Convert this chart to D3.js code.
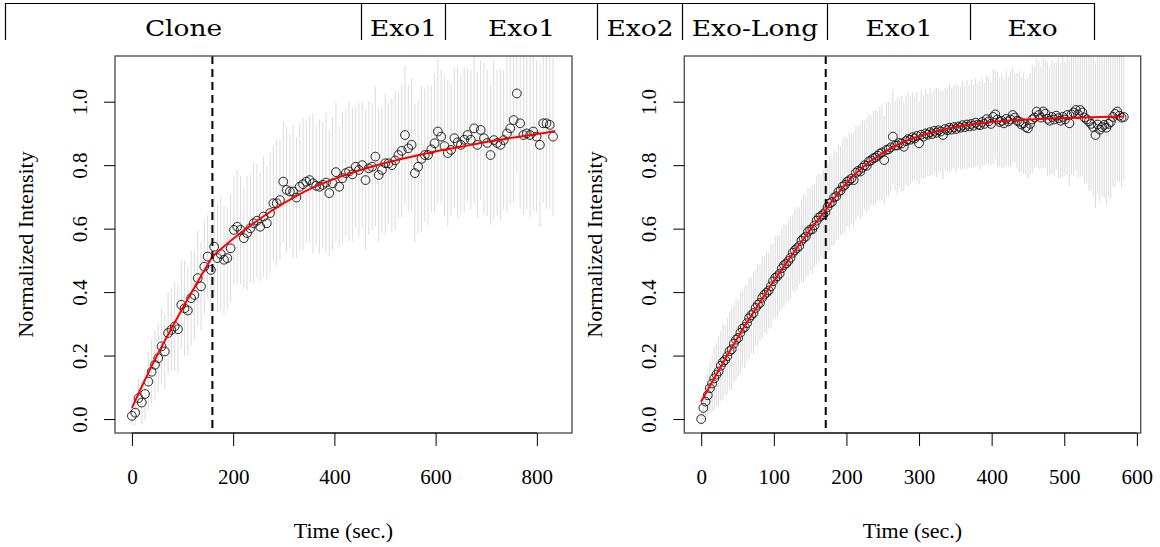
<!DOCTYPE html>
<html>
<head>
<meta charset="utf-8">
<script src="https://cdn.jsdelivr.net/npm/d3@7"></script>
<style>
body { margin: 0; background: #fff; }
svg { display: block; }
</style>
</head>
<body>
<div id="chart"></div>
<script>
// ********** DATA **********

const headerLabels = ["Clone", "Exo1", "Exo1", "Exo2", "Exo-Long", "Exo1", "Exo"];

const yTicks = [0, 0.2, 0.4, 0.6, 0.8, 1.0];
const leftXTicks = [0, 200, 400, 600, 800];
const rightXTicks = [0, 100, 200, 300, 400, 500, 600];

// left panel (Clone)
const leftTime = [0,6.5,13,19.5,26,32.5,39,45.5,52,58.5,65,71.5,78,84.5,91,97.5,104,110.5,117,123.5,
	130,136.5,143,149.5,156,162.5,169,175.5,182,188.5,195,201.5,208,214.5,221,227.5,234,240.5,247,253.5,
	260,266.5,273,279.5,286,292.5,299,305.5,312,318.5,325,331.5,338,344.5,351,357.5,364,370.5,377,383.5,
	390,396.5,403,409.5,416,422.5,429,435.5,442,448.5,455,461.5,468,474.5,481,487.5,494,500.5,507,513.5,
	520,526.5,533,539.5,546,552.5,559,565.5,572,578.5,585,591.5,598,604.5,611,617.5,624,630.5,637,643.5,
	650,656.5,663,669.5,676,682.5,689,695.5,702,708.5,715,721.5,728,734.5,741,747.5,754,760.5,767,773.5,
	780,786.5,793,799.5,806,812.5,819,825.5,832];
const leftMean = [0.010,0.020,0.066,0.052,0.079,0.118,0.149,0.171,0.192,0.229,
	0.213,0.271,0.281,0.292,0.283,0.360,0.349,0.342,0.381,0.391,
	0.444,0.418,0.480,0.512,0.470,0.543,0.507,0.520,0.502,0.507,
	0.538,0.596,0.606,0.596,0.570,0.586,0.601,0.617,0.625,0.606,
	0.638,0.617,0.649,0.680,0.680,0.690,0.748,0.722,0.717,0.717,
	0.698,0.732,0.740,0.748,0.753,0.743,0.735,0.732,0.738,0.745,
	0.712,0.743,0.778,0.732,0.759,0.775,0.780,0.771,0.795,0.785,
	0.800,0.753,0.790,0.795,0.827,0.769,0.785,0.806,0.806,0.800,
	0.815,0.832,0.845,0.895,0.853,0.864,0.775,0.795,0.820,0.832,
	0.832,0.850,0.869,0.906,0.890,0.860,0.838,0.848,0.885,0.872,
	0.864,0.880,0.895,0.880,0.916,0.864,0.911,0.885,0.870,0.832,
	0.879,0.870,0.864,0.879,0.900,0.916,0.942,1.026,0.932,0.895,
	0.900,0.895,0.906,0.890,0.864,0.932,0.932,0.927,0.890];
const leftSd = [0.03,0.04,0.06,0.07,0.08,0.09,0.10,0.11,0.11,0.12,
	0.12,0.13,0.13,0.14,0.14,0.14,0.15,0.14,0.15,0.14,
	0.15,0.14,0.15,0.13,0.14,0.16,0.17,0.18,0.17,0.16,
	0.17,0.17,0.18,0.17,0.16,0.18,0.17,0.19,0.18,0.17,
	0.19,0.18,0.19,0.18,0.20,0.19,0.19,0.20,0.18,0.21,
	0.19,0.20,0.21,0.19,0.20,0.22,0.19,0.21,0.20,0.22,
	0.20,0.21,0.22,0.19,0.21,0.20,0.22,0.21,0.19,0.21,
	0.20,0.22,0.21,0.20,0.22,0.21,0.20,0.22,0.19,0.21,
	0.22,0.20,0.21,0.22,0.20,0.21,0.22,0.21,0.23,0.21,
	0.22,0.20,0.22,0.23,0.21,0.22,0.23,0.21,0.22,0.24,
	0.22,0.23,0.21,0.22,0.24,0.23,0.22,0.24,0.23,0.22,
	0.25,0.23,0.24,0.22,0.25,0.24,0.26,0.25,0.27,0.25,
	0.24,0.26,0.25,0.24,0.26,0.25,0.27,0.26,0.25];
const leftFitTime = [0,20,40,60,80,100,120,140,159,200,250,300,350,400,450,500,550,600,650,700,750,800,836];
const leftFitValue = [0.035,0.104,0.170,0.232,0.291,0.349,0.405,0.460,0.512,0.568,0.628,0.680,0.724,0.757,0.784,0.807,0.826,0.843,0.858,0.873,0.886,0.898,0.908];
const leftKink = 159;

// right panel (Exo-Long)
const rightTime = [0,3,6,9,12,15,18,21,24,27,30,33,36,39,42,45,48,51,54,57,
	60,63,66,69,72,75,78,81,84,87,90,93,96,99,102,105,108,111,114,117,
	120,123,126,129,132,135,138,141,144,147,150,153,156,159,162,165,168,171,174,177,
	180,183,186,189,192,195,198,201,204,207,210,213,216,219,222,225,228,231,234,237,
	240,243,246,249,252,255,258,261,264,267,270,273,276,279,282,285,288,291,294,297,
	300,303,306,309,312,315,318,321,324,327,330,333,336,339,342,345,348,351,354,357,
	360,363,366,369,372,375,378,381,384,387,390,393,396,399,402,405,408,411,414,417,
	420,423,426,429,432,435,438,441,444,447,450,453,456,459,462,465,468,471,474,477,
	480,483,486,489,492,495,498,501,504,507,510,513,516,519,522,525,528,531,534,537,
	540,543,546,549,552,555,558,561,564,567,570,573,576,579,582];
const rightMean = [0.000,0.035,0.055,0.075,0.097,0.112,0.128,0.140,0.150,0.168,
	0.180,0.186,0.198,0.214,0.220,0.238,0.250,0.256,0.272,0.285,
	0.290,0.302,0.318,0.327,0.334,0.350,0.360,0.366,0.382,0.392,
	0.398,0.405,0.418,0.434,0.445,0.450,0.458,0.475,0.485,0.490,
	0.498,0.508,0.524,0.532,0.538,0.545,0.562,0.570,0.575,0.590,
	0.597,0.598,0.610,0.625,0.635,0.640,0.645,0.652,
	0.668,0.680,0.684,0.698,0.702,0.716,0.720,0.733,0.738,0.748,
	0.752,0.758,0.753,0.776,0.782,0.780,0.792,0.800,0.798,0.812,
	0.815,0.822,0.824,0.830,0.836,0.840,0.816,0.848,0.850,0.856,
	0.890,0.862,0.862,0.870,0.868,0.858,0.876,0.882,0.880,0.888,
	0.884,0.892,0.869,0.896,0.890,0.900,0.896,0.904,0.898,0.908,
	0.902,0.910,0.906,0.895,0.914,0.910,0.918,0.912,0.920,0.914,
	0.922,0.918,0.926,0.920,0.928,0.922,0.930,0.924,0.934,0.928,
	0.926,0.936,0.930,0.945,0.938,0.930,0.952,0.960,0.944,0.936,
	0.940,0.932,0.946,0.938,0.944,0.958,0.950,0.940,0.937,0.928,
	0.932,0.920,0.916,0.930,0.944,0.950,0.969,0.958,0.950,0.969,
	0.962,0.946,0.940,0.952,0.944,0.956,0.948,0.940,0.952,0.944,
	0.958,0.932,0.960,0.966,0.974,0.960,0.974,0.966,0.950,0.944,
	0.938,0.930,0.920,0.895,0.928,0.912,0.920,0.927,0.918,0.930,
	0.936,0.952,0.962,0.969,0.956,0.950,0.952];
const rightSd = [0.02,0.04,0.06,0.07,0.08,0.09,0.10,0.10,0.11,0.11,
	0.12,0.11,0.12,0.12,0.13,0.12,0.13,0.12,0.13,0.12,
	0.13,0.12,0.13,0.12,0.13,0.12,0.13,0.12,0.13,0.12,
	0.13,0.12,0.13,0.12,0.13,0.13,0.12,0.13,0.13,0.12,
	0.13,0.13,0.12,0.13,0.13,0.12,0.13,0.14,0.13,0.14,
	0.13,0.14,0.13,0.14,0.14,0.13,0.14,0.14,
	0.14,0.15,0.14,0.15,0.14,0.15,0.14,0.15,0.15,0.14,
	0.15,0.14,0.15,0.15,0.14,0.15,0.15,0.14,0.15,0.15,
	0.14,0.15,0.15,0.14,0.15,0.15,0.14,0.15,0.15,0.14,
	0.15,0.14,0.15,0.14,0.15,0.14,0.14,0.15,0.14,0.14,
	0.13,0.14,0.13,0.14,0.13,0.14,0.13,0.14,0.13,0.13,
	0.14,0.13,0.13,0.14,0.13,0.13,0.14,0.13,0.13,0.14,
	0.13,0.13,0.14,0.13,0.14,0.13,0.14,0.13,0.14,0.13,
	0.14,0.14,0.13,0.14,0.14,0.13,0.15,0.14,0.15,0.14,
	0.15,0.14,0.15,0.14,0.15,0.15,0.14,0.15,0.16,0.15,
	0.16,0.15,0.16,0.16,0.17,0.16,0.17,0.17,0.16,0.18,
	0.17,0.18,0.17,0.18,0.18,0.17,0.19,0.18,0.19,0.18,
	0.19,0.20,0.19,0.20,0.19,0.20,0.21,0.20,0.21,0.20,
	0.22,0.21,0.22,0.23,0.22,0.23,0.22,0.23,0.24,0.23,
	0.24,0.22,0.23,0.22,0.21,0.22,0.20];
const rightFitTime = [0,20,40,60,80,100,120,140,160,171,180,190,200,215,230,250,275,300,330,360,400,450,500,550,582];
const rightFitValue = [0.055,0.137,0.217,0.293,0.365,0.435,0.501,0.565,0.625,0.656,0.686,0.716,0.743,0.778,0.807,0.838,0.869,0.891,0.910,0.924,0.936,0.944,0.949,0.952,0.953];
const rightKink = 171.5;

// ********** LAYOUT **********

const width = 1160, height = 547;
const headerEdges = [5.5, 361.5, 445.5, 597.5, 682.5, 827.5, 970.5, 1094.5];
const serif = "'Liberation Serif', 'Times New Roman', serif";

const svg = d3.select("#chart")
	.append("svg")
	.attr("width", width)
	.attr("height", height);

// header row of the table
const renderHeader = () => {
	const g = svg.append("g");
	g.append("line")
		.attr("x1", headerEdges[0]).attr("x2", headerEdges[headerEdges.length - 1])
		.attr("y1", 3.5).attr("y2", 3.5)
		.attr("stroke", "#000").attr("stroke-width", 1.2);
	g.selectAll("line.sep")
		.data(headerEdges)
		.enter()
		.append("line")
		.attr("class", "sep")
		.attr("x1", d => d).attr("x2", d => d)
		.attr("y1", 3).attr("y2", 40)
		.attr("stroke", "#000").attr("stroke-width", 1.2);
	g.selectAll("text")
		.data(headerLabels)
		.enter()
		.append("text")
		.attr("transform", (d, i) => `translate(${(headerEdges[i] + headerEdges[i + 1]) / 2},35.5) scale(1.15,1)`)
		.attr("text-anchor", "middle")
		.style("font-family", "'DejaVu Serif', serif")
		.style("font-size", "23px")
		.text(d => d);
}

const renderPanel = (cfg) => {
	const { box, xlim, xTicks, time, mean, sd, fitTime, fitValue, kink, id } = cfg;
	const padX = (xlim[1] - xlim[0]) * 0.04;
	const x = d3.scaleLinear().domain([xlim[0] - padX, xlim[1] + padX]).range([box.x0, box.x1]);
	const y = d3.scaleLinear().domain([-0.044, 1.144]).range([box.y1, box.y0]);

	const g = svg.append("g");

	svg.append("clipPath").attr("id", id)
		.append("rect")
		.attr("x", box.x0).attr("y", box.y0)
		.attr("width", box.x1 - box.x0).attr("height", box.y1 - box.y0);

	const plot = g.append("g").attr("clip-path", `url(#${id})`);

	// error bars
	plot.selectAll("line.err")
		.data(time)
		.enter()
		.append("line")
		.attr("class", "err")
		.attr("x1", d => x(d)).attr("x2", d => x(d))
		.attr("y1", (d, i) => y(mean[i] - sd[i]))
		.attr("y2", (d, i) => y(mean[i] + sd[i]))
		.attr("stroke", "#dcdcdc")
		.attr("stroke-width", 1);

	// points
	plot.selectAll("circle")
		.data(time)
		.enter()
		.append("circle")
		.attr("cx", d => x(d))
		.attr("cy", (d, i) => y(mean[i]))
		.attr("r", 4.4)
		.attr("fill", "none")
		.attr("stroke", "#111")
		.attr("stroke-width", 0.9);

	// fitted curve, two pieces split at the kink
	const fit = fitTime.map((t, i) => [t, fitValue[i]]);
	const line = d3.line().x(d => x(d[0])).y(d => y(d[1])).curve(d3.curveMonotoneX);
	[fit.filter(d => d[0] <= kink + 1), fit.filter(d => d[0] >= kink - 1)].forEach(part => {
		plot.append("path")
			.attr("d", line(part))
			.attr("fill", "none")
			.attr("stroke", "#ff0000")
			.attr("stroke-width", 2);
	});

	// dashed marker
	plot.append("line")
		.attr("x1", x(kink)).attr("x2", x(kink))
		.attr("y1", box.y0).attr("y2", box.y1)
		.attr("stroke", "#000")
		.attr("stroke-width", 2)
		.attr("stroke-dasharray", "8,5");

	// frame
	g.append("rect")
		.attr("x", box.x0).attr("y", box.y0)
		.attr("width", box.x1 - box.x0).attr("height", box.y1 - box.y0)
		.attr("fill", "none")
		.attr("stroke", "#555")
		.attr("stroke-width", 1.4);

	// x axis
	const xAxis = g.append("g")
		.attr("transform", `translate(0,${box.y1})`)
		.call(d3.axisBottom(x).tickValues(xTicks).tickSize(13).tickFormat(d3.format("d")));
	xAxis.select(".domain").remove();
	xAxis.append("line")
		.attr("x1", x(xTicks[0])).attr("x2", x(xTicks[xTicks.length - 1]))
		.attr("stroke", "#000");
	xAxis.selectAll("text")
		.attr("y", 51).attr("dy", 0)
		.attr("fill", "#000")
		.style("font-family", serif).style("font-size", "21px");

	// y axis
	const yAxis = g.append("g")
		.attr("transform", `translate(${box.x0},0)`)
		.call(d3.axisLeft(y).tickValues(yTicks).tickSize(11).tickFormat(d3.format(".1f")));
	yAxis.select(".domain").remove();
	yAxis.selectAll("text")
		.attr("x", 0).attr("y", -28).attr("dy", 0)
		.attr("text-anchor", "middle")
		.attr("transform", "rotate(-90)")
		.attr("fill", "#000")
		.style("font-family", serif).style("font-size", "21px");

	// axis titles
	g.append("text")
		.attr("x", (box.x0 + box.x1) / 2).attr("y", 538)
		.attr("text-anchor", "middle")
		.style("font-family", serif).style("font-size", "22px")
		.text("Time (sec.)");
	g.append("text")
		.attr("transform", `translate(${box.x0 - 82},${(box.y0 + box.y1) / 2}) rotate(-90)`)
		.attr("text-anchor", "middle")
		.style("font-family", serif).style("font-size", "22px")
		.text("Normalized Intensity");
}

renderHeader();
renderPanel({
	id: "clipLeft",
	box: { x0: 115, x1: 572, y0: 56, y1: 433 },
	xlim: [0, 836], xTicks: leftXTicks,
	time: leftTime, mean: leftMean, sd: leftSd,
	fitTime: leftFitTime, fitValue: leftFitValue, kink: leftKink
});
renderPanel({
	id: "clipRight",
	box: { x0: 684.3, x1: 1140.7, y0: 56, y1: 433 },
	xlim: [0, 582], xTicks: rightXTicks,
	time: rightTime, mean: rightMean, sd: rightSd,
	fitTime: rightFitTime, fitValue: rightFitValue, kink: rightKink
});
</script>
</body>
</html>
